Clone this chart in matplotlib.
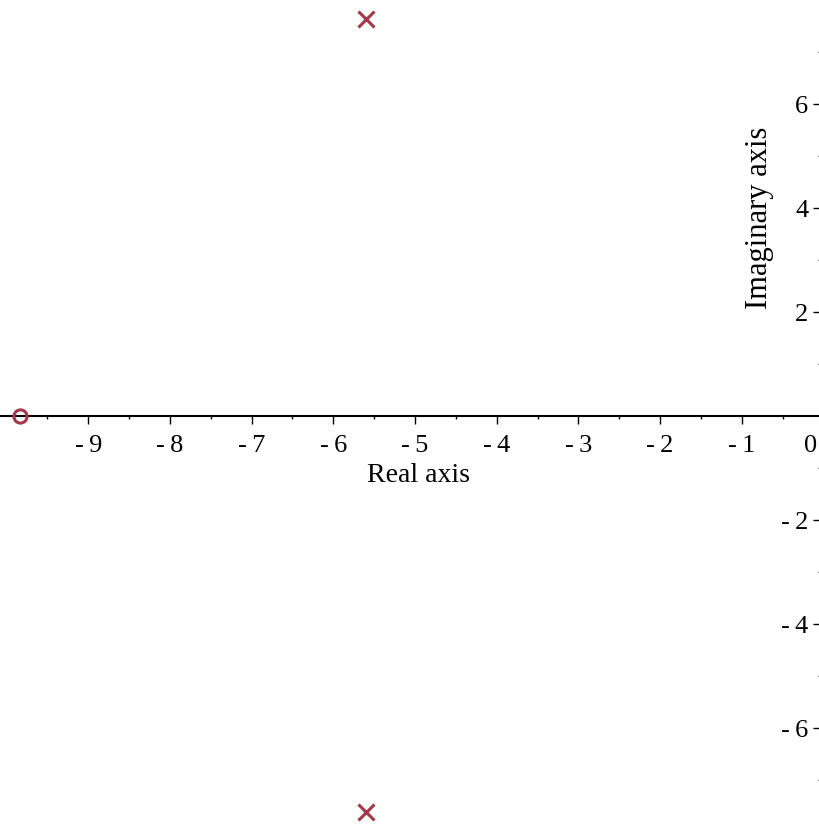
import numpy as np
import matplotlib.pyplot as plt
from matplotlib.ticker import FixedLocator

plt.rcParams['font.family'] = ['Liberation Serif', 'DejaVu Serif']

# poles and zeros (real, imag)
pole_re = [-5.6, -5.6]
pole_im = [7.63, -7.62]
zero_re = [-9.84]
zero_im = [0.0]

xticks = [-9, -8, -7, -6, -5, -4, -3, -2, -1]
xminor = [-9.5, -8.5, -7.5, -6.5, -5.5, -4.5, -3.5, -2.5, -1.5, -0.5]
yticks = [-6, -4, -2, 2, 4, 6]
yminor = [-7, -5, -3, -1, 1, 3, 5, 7]

mark_color = '#a23848'

fig = plt.figure(figsize=(8.19, 8.25), dpi=100)
ax = fig.add_axes([0, 0, 1, 1])
ax.set_xlim(-10.08, -0.054)
ax.set_ylim(-7.865, 8.0)

# axes crossing at the origin
for side in ['top', 'right']:
    ax.spines[side].set_visible(False)
ax.spines['bottom'].set_position(('data', 0))
ax.spines['left'].set_position(('data', 0))
ax.spines['bottom'].set_linewidth(1.5)
ax.spines['left'].set_linewidth(1.5)
ax.patch.set_visible(False)

def lab(v):
    return ('-\u2009%d' % abs(v)) if v < 0 else '%d' % v

ax.set_xticks(xticks)
ax.set_xticklabels([lab(v) for v in xticks])
ax.set_yticks(yticks)
ax.set_yticklabels([lab(v) for v in yticks])
ax.xaxis.set_minor_locator(FixedLocator(xminor))
ax.yaxis.set_minor_locator(FixedLocator(yminor))
ax.tick_params(axis='x', which='major', direction='out', length=5.5, width=1, pad=8.5, labelsize=19)
ax.tick_params(axis='x', which='minor', direction='out', length=2.5, width=1)
ax.tick_params(axis='y', which='major', direction='out', length=7, width=1, pad=4, labelsize=19)
ax.tick_params(axis='y', which='minor', direction='out', length=3.5, width=0.8)

# "0" label at the corner
ax.annotate('0', xy=(0, 0), xytext=(-4.5, -14), textcoords='offset points',
            ha='right', va='top', fontsize=19, annotation_clip=False)

ax.text(-4.96, -1.27, 'Real axis', ha='center', va='baseline', fontsize=20)
ax.text(-0.69, 3.81, 'Imaginary axis', ha='center', va='baseline', rotation=90,
        rotation_mode='anchor', fontsize=22)

ax.plot(pole_re, pole_im, linestyle='none', marker='x', markersize=11,
        markeredgewidth=2.2, color=mark_color, clip_on=False, zorder=5)
ax.plot(zero_re, zero_im, linestyle='none', marker='o', markersize=9.5,
        markerfacecolor='none', markeredgewidth=2.2, color=mark_color, clip_on=False, zorder=5)

fig.savefig('out.png', dpi=100)
